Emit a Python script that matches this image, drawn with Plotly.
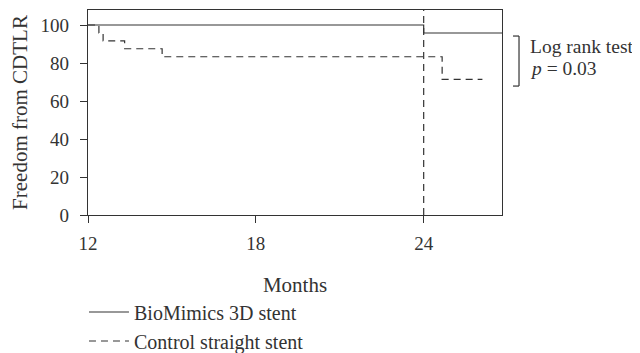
import plotly.graph_objects as go

# Data
bio_months = [12, 24, 26.8]
bio_values = [100, 95.8, 95.8]
ctrl_months = [12, 12.39, 12.54, 13.31, 14.65, 24.66, 26.1]
ctrl_values = [100, 95.8, 91.7, 87.5, 83.3, 71.4, 71.4]
x_ticks = [12, 18, 24]
y_ticks = [0, 20, 40, 60, 80, 100]
ref_month = 24

INK = "#333333"
FONT = "Liberation Serif"
FS = 21
TFS = 19

fig = go.Figure()
fig.add_trace(go.Scatter(x=bio_months, y=bio_values, mode="lines", line_shape="hv",
                         line=dict(color=INK, width=1.2), name="BioMimics 3D stent"))
fig.add_trace(go.Scatter(x=ctrl_months, y=ctrl_values, mode="lines", line_shape="hv",
                         line=dict(color=INK, width=1.2, dash="7px,5px"), name="Control straight stent"))

fig.add_shape(type="line", x0=ref_month, x1=ref_month, y0=0, y1=1, xref="x", yref="paper",
              line=dict(color=INK, width=1.2, dash="7px,5px"))

# bracket
bx0, bx1, by0, by1 = 1.0266, 1.0411, 0.873, 0.629
for (xa, ya, xb, yb) in [(bx0, by0, bx1, by0), (bx1, by0, bx1, by1), (bx1, by1, bx0, by1)]:
    fig.add_shape(type="line", x0=xa, y0=ya, x1=xb, y1=yb, xref="paper", yref="paper",
                  line=dict(color=INK, width=1.2))

fig.add_annotation(x=1.062, y=0.824, xref="paper", yref="paper", text="Log rank test",
                   showarrow=False, xanchor="left", yanchor="middle",
                   font=dict(family=FONT, size=19.5, color=INK))
fig.add_annotation(x=1.062, y=0.717, xref="paper", yref="paper", text="<i>p</i> = 0.03",
                   showarrow=False, xanchor="left", yanchor="middle",
                   font=dict(family=FONT, size=19.5, color=INK))

# page body has an 8px margin: size the figure to fit the 640x353 window
fig.update_layout(
    width=632, height=345,
    margin=dict(l=80, r=138, t=2, b=138, autoexpand=False),
    paper_bgcolor="white", plot_bgcolor="white",
    font=dict(family=FONT, size=FS, color=INK),
    showlegend=True,
    legend=dict(x=-0.0097, y=-0.378, xanchor="left", yanchor="top", orientation="v",
                font=dict(family=FONT, size=20, color=INK), itemwidth=40,
                bgcolor="rgba(0,0,0,0)"),
    xaxis=dict(range=[12, 26.8], tickvals=x_ticks, ticks="outside", ticklen=7, tickcolor=INK,
               showline=True, linecolor=INK, linewidth=1.2, mirror=True, showgrid=False,
               zeroline=False, automargin=False, ticklabelstandoff=4,
               tickfont=dict(family=FONT, size=TFS, color=INK),
               title=dict(text="Months", standoff=24, font=dict(family=FONT, size=FS, color=INK))),
    yaxis=dict(range=[0, 107.9], tickvals=y_ticks, ticks="outside", ticklen=7, tickcolor=INK,
               showline=True, linecolor=INK, linewidth=1.2, mirror=True, showgrid=False,
               zeroline=False, automargin=False, ticklabelstandoff=7,
               tickfont=dict(family=FONT, size=TFS, color=INK),
               title=dict(text="Freedom from CDTLR", standoff=12, font=dict(family=FONT, size=FS, color=INK))),
)

fig.write_html("out.html")
